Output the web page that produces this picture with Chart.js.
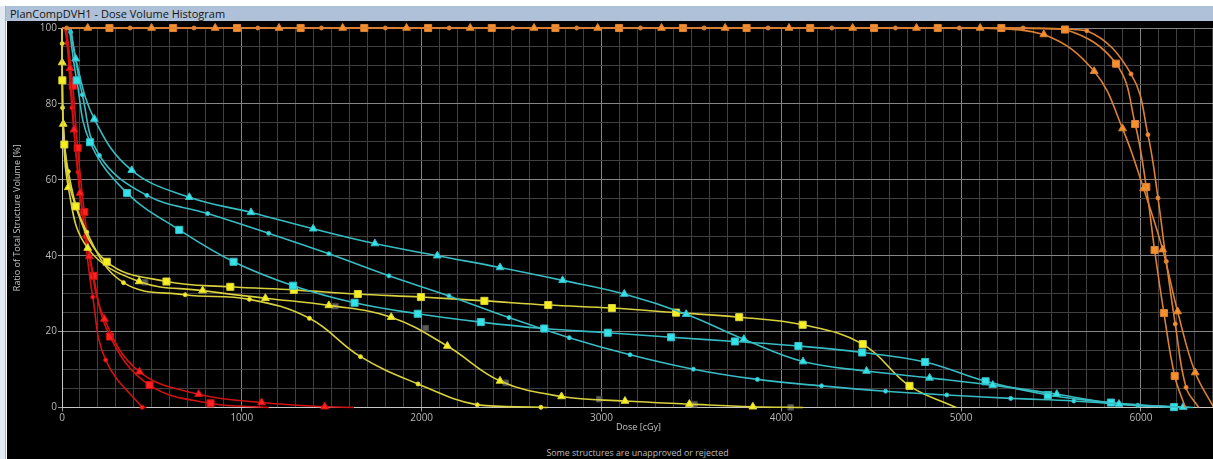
<!DOCTYPE html>
<html>
<head>
<meta charset="utf-8">
<title>PlanCompDVH1 - Dose Volume Histogram</title>
<script src="https://cdn.jsdelivr.net/npm/chart.js@4.4.0/dist/chart.umd.min.js"></script>
<style>
    html, body { margin: 0; padding: 0; background: #fff; }
    body { width: 1213px; height: 459px; overflow: hidden; position: relative; font-family: "Open Sans", sans-serif; }
    #edge { position: absolute; left: 0; top: 6px; width: 5px; height: 453px; background: #e3e9f1; border-right: 1px solid #9fb3cc; }
    #caption { position: absolute; left: 6px; top: 6px; right: 0; height: 15px; background: #aec1d8; color: #141414;
               font-size: 11px; line-height: 15px; padding-left: 4px; white-space: nowrap; }
    #plot { position: absolute; left: 7px; top: 21px; right: 0; bottom: 0; background: #000; overflow: hidden; }
    #dvh { position: absolute; left: 0; top: 0; }
    #note { position: absolute; left: 55px; width: 1151px; top: 425px; text-align: center; color: #bdbdbd;
            font-size: 8.8px; line-height: 14px; white-space: nowrap; }
</style>
</head>
<body>
<div id="edge"></div>
<div id="caption">PlanCompDVH1 - Dose Volume Histogram</div>
<div id="plot">
    <canvas id="dvh" width="1213" height="425"></canvas>
    <div id="note">Some structures are unapproved or rejected</div>
</div>
<script>
// dose [cGy], volume [%]; one array per structure and plan
const ptvTriangle = [[0,100],[143,100],[498,100],[852,100],[1207,100],[1561,100],[1916,100],[2270,100],[2625,100],[2979,100],[3334,100],[3688,100],[4043,100],[4397,100],[4752,100],[5106,100],[5460,98.3],[5740,88.6],[5898,73.5],[6015,57.7],[6121,41.6],[6204,25.3],[6302,9.2],[6405,0]];
const ptvSquare = [[0,100],[264,100],[618,100],[973,100],[1327,100],[1681,100],[2036,100],[2390,100],[2744,100],[3098,100],[3453,100],[3807,100],[4161,100],[4516,100],[4870,100],[5224,100],[5578,99.6],[5862,90.6],[5968,74.7],[6030,58.1],[6076,41.5],[6128,24.9],[6188,8.3],[6247,0]];
const ptvDot = [[0,100],[26,100],[379,100],[734,100],[1089,100],[1443,100],[1798,100],[2153,100],[2507,100],[2862,100],[3217,100],[3571,100],[3926,100],[4281,100],[4635,100],[4990,100],[5345,100],[5699,99.3],[5945,87.9],[6039,71.9],[6095,55.2],[6141,38.5],[6191,22.0],[6251,5.3],[6321,0]];

const cyanTriangle = [[50,100],[76,91.9],[180,76.0],[388,62.5],[708,55.4],[1051,51.4],[1397,47.1],[1740,43.2],[2087,40.0],[2436,36.9],[2784,33.5],[3127,29.9],[3471,24.6],[3792,18.0],[4121,12.1],[4474,9.6],[4825,7.8],[5176,5.9],[5532,3.5],[5878,0.9],[6235,0.1],[6290,0]];
const cyanSquare = [[40,100],[82,86.2],[156,69.9],[362,56.5],[652,46.8],[954,38.4],[1285,32.1],[1627,27.6],[1978,24.7],[2329,22.5],[2682,20.8],[3035,19.7],[3387,18.5],[3742,17.4],[4095,16.2],[4450,14.5],[4800,12.0],[5136,6.9],[5482,3.3],[5833,1.3],[6184,0.1],[6260,0]];
const cyanDot = [[30,100],[48,98.9],[113,82.4],[208,66.4],[472,55.9],[810,51.1],[1149,45.9],[1484,40.5],[1818,34.7],[2152,29.4],[2486,23.7],[2821,18.4],[3159,13.9],[3511,10.1],[3867,7.4],[4224,5.7],[4580,4.3],[4920,3.3],[5276,2.4],[5627,1.7],[5983,0.6],[6270,0]];

const yellowSquare = [[0,100],[2,86.2],[13,69.3],[76,53.0],[249,38.4],[581,33.2],[936,31.8],[1289,31.0],[1645,29.9],[1996,29.1],[2349,28.1],[2704,27.0],[3058,26.2],[3415,25.0],[3766,23.8],[4119,21.8],[4453,16.7],[4713,5.7],[4973,0]];
const yellowTriangle = [[0,100],[1,90.9],[7,74.7],[35,58.0],[143,42.0],[429,33.2],[782,30.8],[1131,28.8],[1484,26.9],[1831,23.8],[2143,16.2],[2436,7.0],[2778,2.9],[3131,1.7],[3489,0.9],[3842,0.2],[4121,0]];
const yellowDot = [[0,100],[1,95.9],[3,79.0],[35,62.2],[138,46.2],[342,32.9],[685,29.7],[1042,28.5],[1376,23.5],[1660,13.4],[1980,6.2],[2310,0.7],[2663,0.05],[2700,0]];
const greyMarks = [[462,33.0],[1520,26.7],[2022,20.9],[2468,6.5],[2988,2.2],[3517,0.9],[4052,0.05]];

const redTriangle = [[20,100],[45,89.4],[67,73.2],[100,56.5],[152,39.8],[236,23.3],[431,9.4],[760,3.5],[1110,1.3],[1461,0.2],[1624,0]];
const redSquare = [[25,100],[60,84.8],[87,68.4],[124,51.5],[175,34.7],[267,18.7],[487,5.9],[826,1.1],[1150,0]];
const redDot = [[15,100],[28,96.0],[55,79.0],[89,62.0],[128,45.0],[171,29.1],[243,12.5],[446,0.05],[470,0]];

const doseTicks = [0, 1000, 2000, 3000, 4000, 5000, 6000];
const volumeTicks = [0, 20, 40, 60, 80, 100];

const FONT = '"Open Sans", "Liberation Sans", sans-serif';
const MARKER_SIZE = { rect: 5, triangle: 4.5, circle: 2 };

function curve(points, line, fill, marker) {
    return {
        data: points,
        borderColor: line,
        borderWidth: 1.6,
        tension: 0.4,
        pointStyle: marker,
        pointBackgroundColor: fill,
        pointBorderColor: line,
        pointBorderWidth: 1,
        // no marker where the curve starts at 100 % or runs out at 0 %
        pointRadius: (ctx) => {
            const last = ctx.dataset.data.length - 1;
            return (ctx.dataIndex === 0 || ctx.dataIndex === last) ? 0 : MARKER_SIZE[marker];
        },
        clip: 8
    };
}

const orange = ['#dc8034', '#f5902c'];
const cyan = ['#38bcc4', '#34e2ea'];
const yellow = ['#d8d03c', '#f6f020'];
const red = ['#d01212', '#ff2020'];

const datasets = [
    curve(ptvTriangle, ...orange, 'triangle'),
    curve(ptvSquare, ...orange, 'rect'),
    curve(ptvDot, ...orange, 'circle'),
    curve(cyanTriangle, ...cyan, 'triangle'),
    curve(cyanSquare, ...cyan, 'rect'),
    curve(cyanDot, ...cyan, 'circle'),
    curve(yellowSquare, ...yellow, 'rect'),
    curve(yellowTriangle, ...yellow, 'triangle'),
    curve(yellowDot, ...yellow, 'circle'),
    curve(redTriangle, ...red, 'triangle'),
    curve(redSquare, ...red, 'rect'),
    curve(redDot, ...red, 'circle'),
    {
        data: greyMarks,
        showLine: false,
        pointStyle: 'rect',
        pointRadius: 4,
        pointBackgroundColor: '#5a5a5a',
        pointBorderColor: '#444',
        pointBorderWidth: 1,
        clip: 8
    }
];

const gridColor = (major) => (ctx) => (ctx.tick && major(ctx.tick.value)) ? '#858585' : '#404040';
const tickColor = (major) => (ctx) => (ctx.tick && major(ctx.tick.value)) ? '#a0a0a0' : 'rgba(0,0,0,0)';
const isDoseTick = (v) => doseTicks.includes(v);
const isVolumeTick = (v) => volumeTicks.includes(v);

new Chart(document.getElementById('dvh'), {
    type: 'line',
    data: { datasets },
    options: {
        responsive: false,
        animation: false,
        events: [],
        layout: { padding: { top: 7, right: 0, bottom: 0, left: 0 } },
        plugins: {
            legend: { display: false },
            tooltip: { enabled: false }
        },
        scales: {
            x: {
                type: 'linear',
                min: 0,
                max: 6412,
                border: { color: '#c8c8c8', width: 1 },
                grid: { color: gridColor(isDoseTick), tickColor: tickColor(isDoseTick), tickLength: 4 },
                ticks: {
                    stepSize: 100,
                    autoSkip: false,
                    maxRotation: 0,
                    includeBounds: false,
                    padding: 1,
                    color: '#b8b8b8',
                    font: { family: FONT, size: 10 },
                    callback: (v) => isDoseTick(v) ? String(v) : ''
                },
                title: {
                    display: true,
                    text: 'Dose [cGy]',
                    color: '#c4c4c4',
                    font: { family: FONT, size: 9 },
                    padding: { top: 0, bottom: 13.5 }
                },
                afterFit: (scale) => { scale.height = 38.5; }
            },
            y: {
                type: 'linear',
                min: 0,
                max: 100,
                border: { color: '#c8c8c8', width: 1 },
                grid: { color: gridColor(isVolumeTick), tickColor: tickColor(isVolumeTick), tickLength: 4 },
                ticks: {
                    stepSize: 5,
                    autoSkip: false,
                    padding: 1,
                    color: '#b8b8b8',
                    font: { family: FONT, size: 10 },
                    callback: (v) => isVolumeTick(v) ? String(v) : ''
                },
                title: {
                    display: true,
                    text: 'Ratio of Total Structure Volume [%]',
                    color: '#c4c4c4',
                    font: { family: FONT, size: 9 },
                    padding: { top: 5, bottom: 0 }
                },
                afterFit: (scale) => { scale.width = 55; }
            }
        }
    }
});
</script>
</body>
</html>
